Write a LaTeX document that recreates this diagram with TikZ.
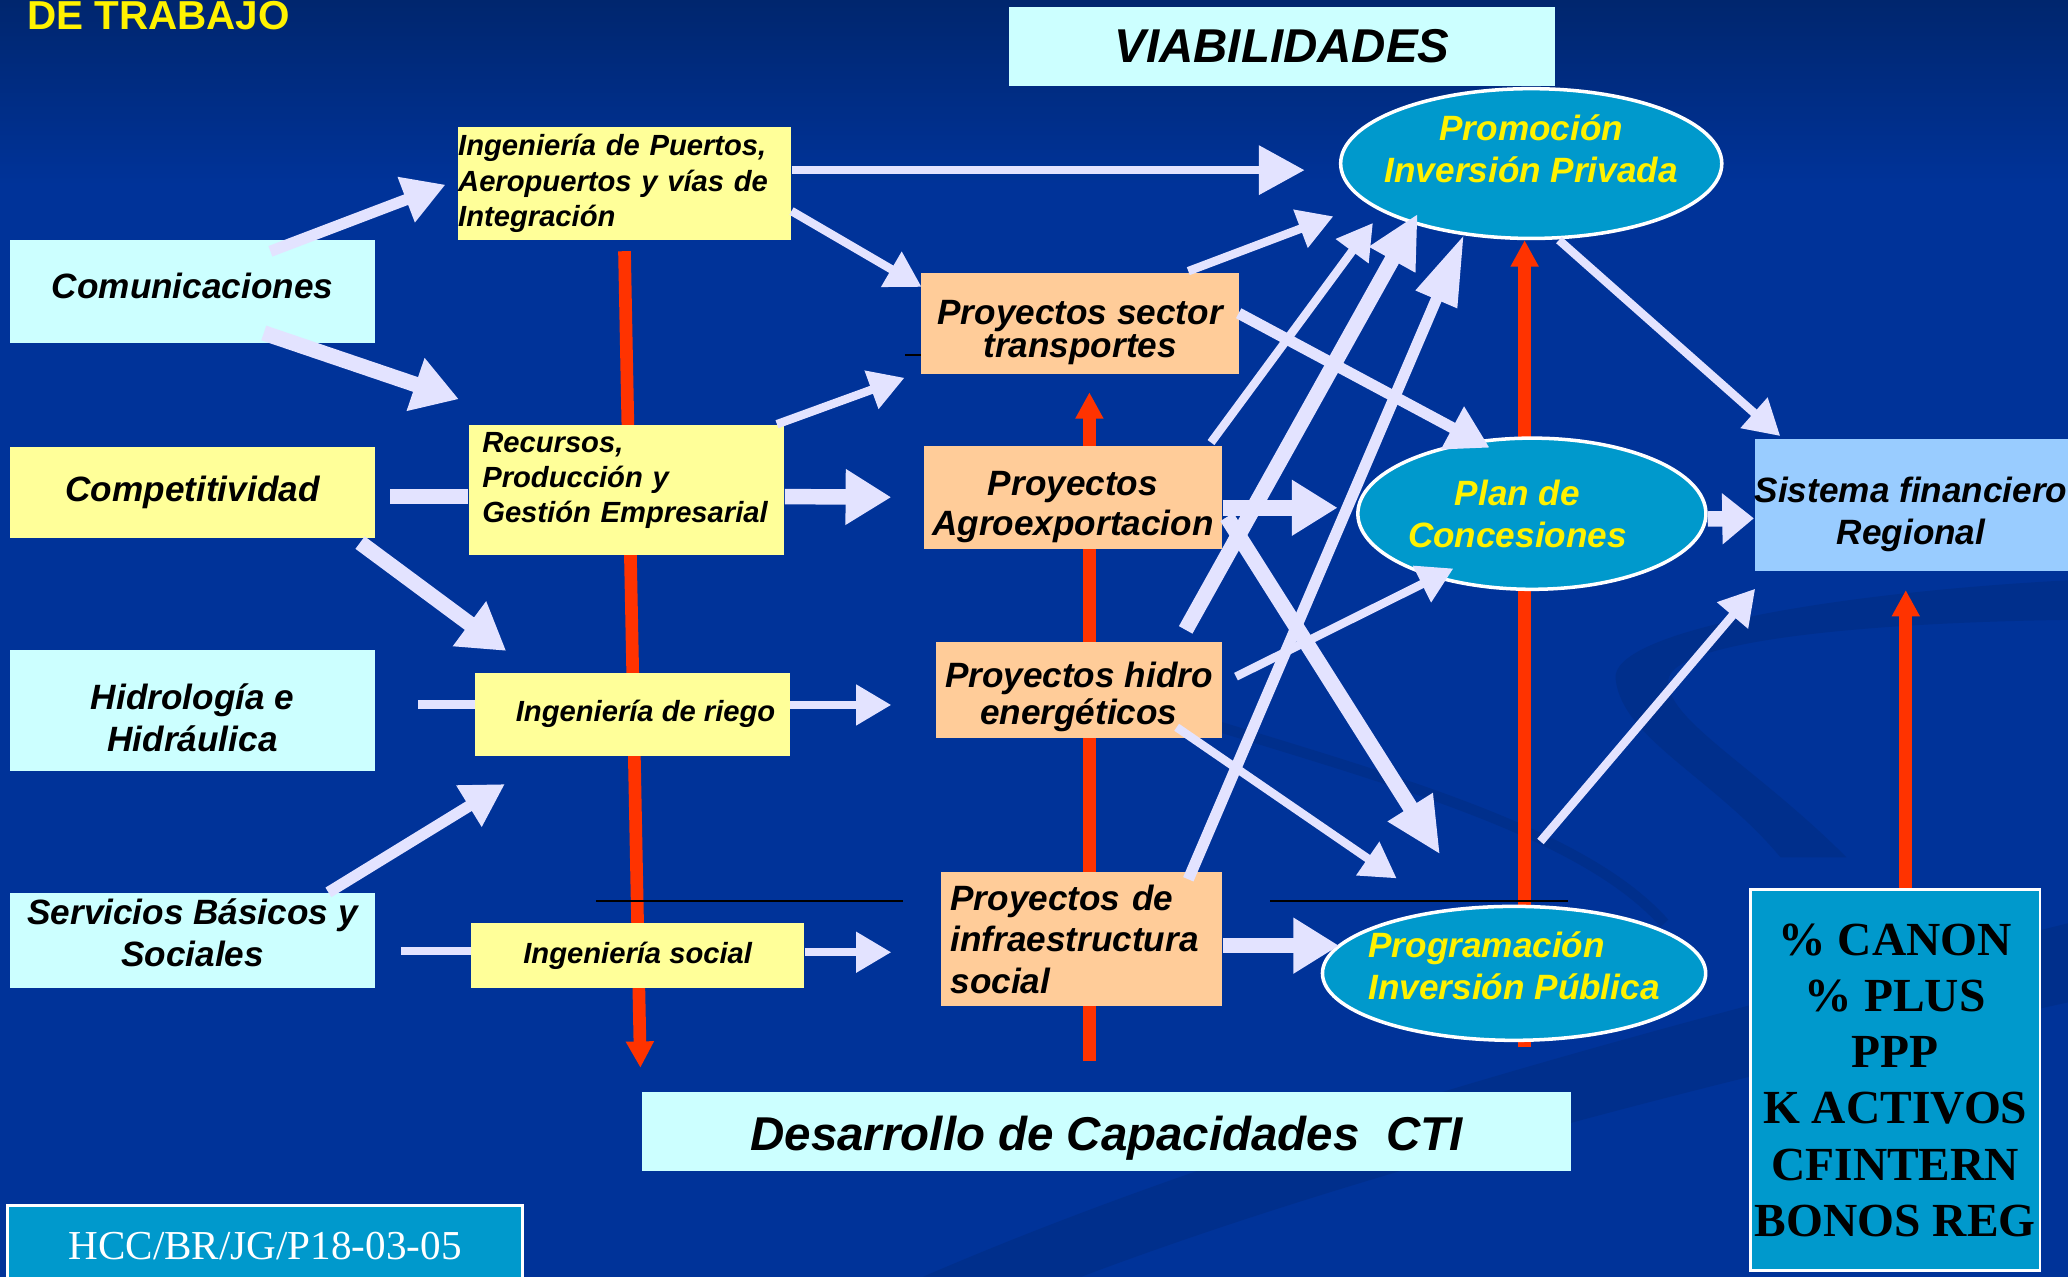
\documentclass[tikz,border=0pt]{standalone}
\usepackage{fontspec}
\setmainfont{Liberation Sans}
\newfontfamily\timesfont{Liberation Serif}
\usetikzlibrary{calc,shapes.geometric,arrows.meta,backgrounds}

\definecolor{bgblue}{HTML}{003399}
\definecolor{bgtop}{HTML}{00266E}
\definecolor{swoosh}{HTML}{002F8C}
\definecolor{cyanbox}{HTML}{CCFFFF}
\definecolor{yelbox}{HTML}{FFFF99}
\definecolor{orabox}{HTML}{FFCC99}
\definecolor{ovalblue}{HTML}{0099CC}
\definecolor{skyblue}{HTML}{99CCFF}
\definecolor{lavender}{HTML}{E3E3FF}
\definecolor{redline}{HTML}{FF3300}

% invisible struts to nudge text inside its box
\newcommand{\txtup}[1]{\rule[-#1]{0pt}{#1}}
\newcommand{\txtdown}[1]{\rule{0pt}{#1}}

\tikzset{
  lbl/.style={font=\bfseries\itshape\fontsize{10}{12}\selectfont, align=center, inner sep=0pt},
  cbox/.style={lbl, fill=cyanbox, minimum width=103.9pt},
  ybox/.style={lbl, fill=yelbox, minimum width=103.9pt},
  sbox/.style={font=\bfseries\itshape\fontsize{8.3}{10}\selectfont, fill=yelbox, inner sep=0pt},
  obox/.style={lbl, fill=orabox},
  oval/.style={ellipse, lbl, fill=ovalblue, draw=white, line width=1pt, text=yellow, inner xsep=-6pt},
  thinline/.style={draw=lavender, line width=2.4pt},
  fatline/.style={draw=lavender, line width=4.4pt},
  thinarr/.style={thinline, -{Triangle[length=10pt,width=11pt]}},
  midarr/.style={draw=lavender, line width=3.2pt, -{Triangle[length=12pt,width=13pt]}},
  fatarr/.style={fatline, -{Triangle[length=13pt,width=15pt]}},
  redarr/.style={draw=redline, line width=3.6pt, -{Triangle[length=7.5pt,width=7.5pt]}}
}

\begin{document}
\begin{tikzpicture}[x=0.013189cm, y=-0.013189cm]
\useasboundingbox (0,0) rectangle (1568,968);

% --- left column
\node[anchor=base west, text=yellow, font=\bfseries\fontsize{11.5}{13}\selectfont, inner sep=0pt] (titulo) at (20,22) {DE TRABAJO};
\node[cbox, minimum height=29.2pt] (comu) at (146,221) {Comunicaciones\txtup{3pt}};
\node[ybox, minimum height=25.8pt] (compe) at (146,373.5) {Competitividad};
\node[cbox, minimum height=34.4pt] (hidb) at (146,539) {\txtdown{11.1pt}Hidrología e\\Hidráulica};
\node[cbox, minimum height=26.9pt] (serv) at (146,713) {Servicios Básicos y\\Sociales\txtup{4.6pt}};

% --- engineering boxes
\node[sbox, text width=94.6pt, minimum height=32.2pt, align=left] (ingpuer) at (473.5,139) {Ingeniería de Puertos,\\Aeropuertos y vías de\\Integración};
\node[sbox, text width=82pt, minimum width=89.7pt, minimum height=37pt, align=left] (recur) at (475,371.5) {Recursos,\\Producción y\\Gestión Empresarial\txtup{7pt}};
\node[sbox, minimum width=89.4pt, minimum height=23.6pt] (riego) at (479.5,541.5) {\hspace*{7.5pt}Ingeniería de riego};
\node[sbox, minimum width=94.6pt, minimum height=18.3pt] (isoc) at (483.5,724.5) {Ingeniería social};

% --- projects
\node[obox, minimum width=90.5pt, minimum height=28.8pt, font=\bfseries\itshape\fontsize{10}{9.4}\selectfont] (transp) at (819,245.5) {\txtdown{11.7pt}Proyectos sector\\transportes};
\node[obox, minimum width=84.9pt, minimum height=29.2pt, font=\bfseries\itshape\fontsize{10}{11.6}\selectfont] (agro) at (813.5,377) {\txtdown{12.5pt}Proyectos\\Agroexportacion};
\node[obox, minimum width=81.5pt, minimum height=27.3pt, font=\bfseries\itshape\fontsize{10}{9}\selectfont] (phid) at (818,523.5) {\txtdown{11pt}Proyectos hidro\\energéticos};
\node[obox, text width=74.5pt, minimum width=80pt, minimum height=38.1pt, align=left, font=\bfseries\itshape\fontsize{10}{11.8}\selectfont] (infra) at (820,712) {Proyectos de\\infraestructura\\social};

% --- viabilidades
\node[lbl, fill=cyanbox, minimum width=155.5pt, minimum height=22.4pt, font=\bfseries\itshape\fontsize{13.5}{16}\selectfont] (viab) at (972,35) {VIABILIDADES};
\node[oval, minimum width=108.4pt, minimum height=42.6pt] (promo) at (1161,124) {Promoción\\Inversión Privada\txtup{8.4pt}};
\node[oval, minimum width=99pt, minimum height=43pt] (plan) at (1161.5,389.5) {Plan de\hspace*{8.2pt}\\Concesiones\hspace*{8.2pt}};
\node[oval, minimum width=109pt, minimum height=38.1pt, align=left] (progr) at (1148,738) {Programación\\Inversión Pública\txtup{4.6pt}};
\node[lbl, fill=skyblue, minimum width=89pt, minimum height=37.4pt] (sist) at (1449,383) {\txtdown{12.5pt}Sistema financiero\\Regional};
\node[fill=ovalblue, draw=white, line width=0.8pt, minimum width=82.3pt, minimum height=108.4pt, inner sep=0pt, align=center, font=\timesfont\bfseries\fontsize{13.5}{16}\selectfont] (fuen) at (1437,819) {\%~CANON\\\%~PLUS\\PPP\\K~ACTIVOS\\CFINTERN\\BONOS~REG};
\node[lbl, fill=cyanbox, minimum width=264pt, minimum height=22.4pt, font=\bfseries\itshape\fontsize{13.5}{16}\selectfont] (desa) at (839,858) {\txtdown{13.6pt}Desarrollo de Capacidades\ \ CTI};
\node[fill=ovalblue, draw=white, line width=0.8pt, minimum width=146.6pt, minimum height=23.2pt, inner sep=0pt, text=white, font=\timesfont\fontsize{11.7}{14}\selectfont] (hcc) at (201,945) {HCC/BR/JG/P18-03-05};

\begin{scope}[on background layer]
  \fill[bgblue] (0,0) rectangle (1568,968);
  \shade[top color=bgtop, bottom color=bgblue] (0,0) rectangle (1568,140);
  % faint swooshes
  \fill[swoosh] (1568,440) .. controls (1380,450) and (1220,480) .. (1225,515)
     .. controls (1230,560) and (1300,590) .. (1350,650) -- (1400,650)
     .. controls (1330,580) and (1262,545) .. (1265,515)
     .. controls (1270,485) and (1420,472) .. (1568,470) -- cycle;
  \draw[swoosh, line width=3pt] (905,545) .. controls (1050,590) and (1200,630) .. (1262,700);
  \fill[swoosh] (700,968) .. controls (950,860) and (1250,780) .. (1568,700) -- (1568,760)
     .. controls (1250,830) and (1000,900) .. (820,968) -- cycle;
  % red links
  \draw[redarr] ($(ingpuer.south)+(0,8)$) -- ($(desa.north west)+(-1,-18)$);
  \draw[redarr] ($(desa.north)+(-13,-23)$) -- ($(transp.south)+(7,13)$);
  \draw[redarr] ($(progr.south)+(8,4)$) -- ($(promo.south)+(-5,0)$);
  \draw[redarr] ($(fuen.north)+(8,0)$) -- ($(sist.south)+(-4,14)$);
  % stray rules
  \draw[black, line width=0.6pt] (452,683) -- (685,683);
  \draw[black, line width=0.6pt] (963,683) -- (1189,683);
  \draw[black, line width=0.6pt] (686,269) -- (698,269);
\end{scope}

% left column -> engineering
\draw[midarr] ($(comu.north)+(59,9)$) -- ($(ingpuer.west)+(-9,1)$);
\draw[fatarr] ($(comu.south)+(54,-8)$) -- ($(recur.north west)+(-7,-19)$);
\draw[fatline] ($(compe.east)+(11,3)$) -- ($(recur.west)+(0,5)$);
\draw[fatarr] ($(recur.east)+(0,5)$) -- ($(agro.west)+(-24,0)$);
\draw[fatarr] ($(compe.south east)+(-12,3)$) -- ($(riego.north west)+(24,-16)$);
\draw[thinline] ($(hidb.east)+(32,-5)$) -- ($(riego.west)+(0,-7.5)$);
\draw[thinarr] ($(riego.east)+(0,-7)$) -- ($(phid.west)+(-33,11)$);
\draw[midarr] ($(serv.north)+(103,0)$) -- ($(riego.south west)+(23,21)$);
\draw[thinline] ($(serv.east)+(19,8)$) -- ($(isoc.west)+(0,-3.5)$);
\draw[thinarr] ($(isoc.east)+(0,-2.5)$) -- ($(infra.west)+(-37,10)$);

% engineering -> projects
\draw[thinarr, -{Triangle[length=13pt,width=13.5pt]}] ($(ingpuer.east)+(0,-10)$) -- ($(promo.west)+(-26,5)$);
\draw[thinarr] ($(ingpuer.east)+(0,21)$) -- ($(transp.north west)+(1,11)$);
\draw[thinarr] ($(recur.north east)+(-6,0)$) -- ($(transp.south west)+(-12,2)$);

% projects -> viabilidades
\draw[thinarr] ($(transp.north)+(82,-1)$) -- ($(promo.center)+(-150,40)$);
\draw[midarr] ($(transp.east)+(-1,-8)$) -- ($(plan.center)+(-32,-50)$);
\draw[fatarr] ($(agro.east)+(0,8)$) -- ($(plan.west)+(-14,-4.5)$);
\draw[fatarr, -{Triangle[length=16pt,width=14pt]}] ($(agro.east)+(3,15)$) -- ($(progr.center)+(-56,-90)$);
\draw[thinarr] ($(agro.north east)+(-9,-2)$) -- ($(promo.center)+(-120,45)$);
\draw[fatarr, -{Triangle[length=15pt,width=14pt]}] ($(phid.north)+(81,-9)$) -- ($(promo.center)+(-86,38)$);
\draw[midarr, -{Triangle[length=20pt,width=12pt]}] ($(infra.north)+(81,6)$) -- ($(promo.center)+(-51,54)$);
\draw[thinarr] ($(phid.east)+(10,-10.5)$) -- ($(plan.center)+(-59.5,41.5)$);
\draw[thinarr] ($(phid.south east)+(-35,-9)$) -- ($(progr.center)+(-89,-72)$);
\draw[fatarr] ($(infra.east)+(0,5)$) -- ($(progr.west)+(14,-21)$);

% viabilidades -> sistema financiero
\draw[thinarr] ($(promo.center)+(21,58)$) -- ($(sist.north west)+(20,-2)$);
\draw[fatarr, -{Triangle[length=9pt,width=14pt]}] ($(plan.east)+(0,4)$) -- ($(sist.west)+(0,10)$);
\draw[thinarr] ($(progr.center)+(20,-100)$) -- ($(sist.south west)+(1,13)$);
\end{tikzpicture}
\end{document}
